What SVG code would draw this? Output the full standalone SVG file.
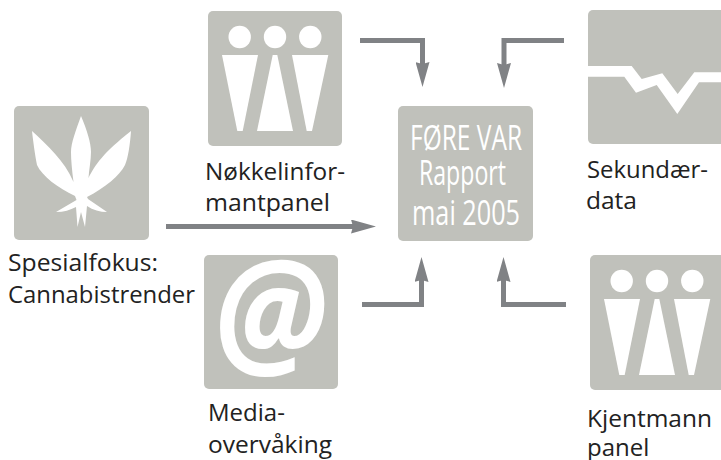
<svg xmlns="http://www.w3.org/2000/svg" width="721" height="460" viewBox="0 0 721 460">
<style>
.tile{fill:#c0c1bb}
.glyph{fill:#fff}
.lbl{font-family:"Open Sans","Noto Sans",sans-serif;font-size:24px;fill:#222}
.head{font-family:"Open Sans","Noto Sans",sans-serif;font-size:35px;fill:#fff;text-anchor:middle}
.conn{fill:none;stroke:#808285;stroke-width:5}
</style>
<defs>
<marker id="ah" markerUnits="userSpaceOnUse" markerWidth="25" markerHeight="14" refX="3" refY="7" orient="auto" viewBox="0 0 25 14"><path d="M0 0L25 7L0 14L2 7Z" fill="#808285"/></marker>
<g id="people">
<circle cx="31.700" cy="26" r="11.200" class="glyph"/><circle cx="67" cy="26" r="11.200" class="glyph"/><circle cx="102.300" cy="26" r="11.200" class="glyph"/>
<path class="glyph" d="M14 44H50L34.700 120H29.300Z"/><path class="glyph" d="M64.700 44H69.300L85 120H49Z"/><path class="glyph" d="M84 44H120.300L104 120H98.700Z"/>
</g>
</defs>
<g id="connectors">
<path class="conn" d="M360 40.500H422.500V65" marker-end="url(#ah)"/>
<path class="conn" d="M564 40.500H504V66" marker-end="url(#ah)"/>
<path class="conn" d="M166 226.500H354" marker-end="url(#ah)"/>
<path class="conn" d="M362 304.500H421.500V279" marker-end="url(#ah)"/>
<path class="conn" d="M566 304.500H503.500V279" marker-end="url(#ah)"/>
</g>
<g id="spesialfokus">
<rect class="tile" x="14" y="106" width="135" height="134" rx="5"/>
<path class="glyph" d="M81 116C87 130 91 143 91 152C91 160 89 170 88.500 178C95 165 103 153 131 131C130 145 128 158 125 165C120 175 105 188 87 197L88 199L107 212C100 212 93 210 87 206L85 227L81 212L77.500 227L76 207C70 210 64 212 56 212L76.500 200L75 196C58 188 42 176 37 165C35 155 33 140 32 131C48 146 64 160 73.500 182C72 170 71 160 71 152C71 143 76 130 81 116Z"/>
<text class="lbl" x="8" y="271" textLength="150" lengthAdjust="spacingAndGlyphs">Spesialfokus:</text>
<text class="lbl" x="8" y="303" textLength="187" lengthAdjust="spacingAndGlyphs">Cannabistrender</text>
</g>
<g id="nokkelinformantpanel">
<rect class="tile" x="208" y="11" width="134" height="135" rx="5"/>
<use href="#people" x="208" y="11"/>
<text class="lbl" x="205" y="180" textLength="140" lengthAdjust="spacingAndGlyphs">Nøkkelinfor-</text>
<text class="lbl" x="205" y="211" textLength="125" lengthAdjust="spacingAndGlyphs">mantpanel</text>
</g>
<g id="rapport">
<rect class="tile" x="398" y="106" width="135" height="135" rx="5"/>
<text class="head" x="466" y="150" textLength="112" lengthAdjust="spacingAndGlyphs">FØRE VAR</text>
<text class="head" x="462.500" y="185" textLength="87" lengthAdjust="spacingAndGlyphs">Rapport</text>
<text class="head" x="466" y="225" textLength="108" lengthAdjust="spacingAndGlyphs">mai 2005</text>
</g>
<g id="sekundaerdata">
<rect class="tile" x="588" y="10" width="140" height="134" rx="5"/>
<path class="glyph" d="M588 66H631.700L641.700 79L662.300 73.300L677.700 94L694.300 72.300H721V82.300H699L677.300 114L656.700 85L636 92.700L624.300 76.700H588Z"/>
<text class="lbl" x="587" y="178" textLength="121" lengthAdjust="spacingAndGlyphs">Sekundær-</text>
<text class="lbl" x="586" y="209" textLength="51" lengthAdjust="spacingAndGlyphs">data</text>
</g>
<g id="media">
<rect class="tile" x="204" y="255" width="134" height="134" rx="5"/>
<text transform="translate(270 364) scale(1.04 1.16)" text-anchor="middle" font-family="Open Sans,sans-serif" font-size="125" font-style="italic" font-weight="700" fill="#fff">@</text>
<text class="lbl" x="208" y="421">Media-</text>
<text class="lbl" x="208" y="453" textLength="124" lengthAdjust="spacingAndGlyphs">overvåking</text>
</g>
<g id="kjentmann">
<rect class="tile" x="590" y="255" width="140" height="135" rx="5"/>
<use href="#people" x="590" y="255"/>
<text class="lbl" x="587" y="427" textLength="125" lengthAdjust="spacingAndGlyphs">Kjentmann</text>
<text class="lbl" x="587" y="456">panel</text>
</g>
</svg>
